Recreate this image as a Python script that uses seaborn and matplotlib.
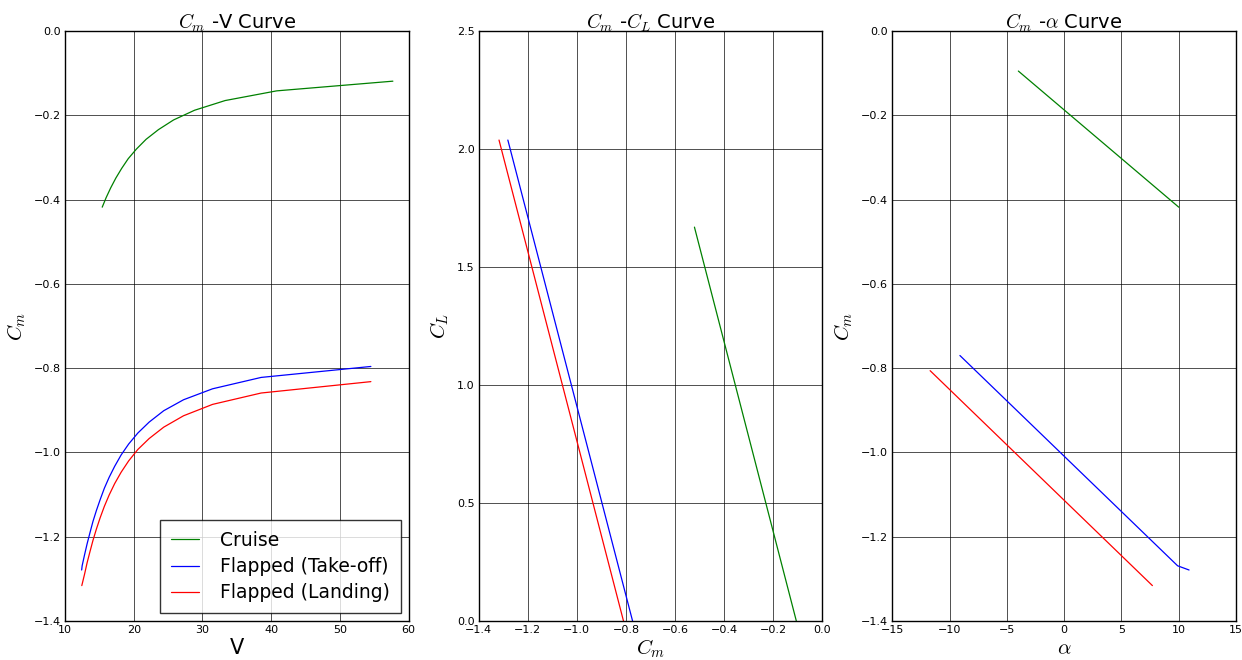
import numpy as np
import pandas as pd
import matplotlib
matplotlib.use("Agg")
import matplotlib.pyplot as plt
import seaborn as sns

# ---------------- data ----------------
series_names = ["Cruise", "Flapped (Take-off)", "Flapped (Landing)"]
series_colors = ["#008000", "#0000ff", "#ff0000"]

# Cm - V curve
v_cruise = [57.7, 40.8, 33.3, 28.85, 25.8, 23.6, 21.8, 20.4, 19.2, 18.25, 17.4, 16.66, 16.0, 15.42]
cm_v_cruise = [-0.119, -0.142, -0.165, -0.188, -0.211, -0.234, -0.257, -0.280, -0.303, -0.326,
               -0.349, -0.372, -0.395, -0.418]
v_takeoff = [54.5, 38.54, 31.47, 27.25, 24.37, 22.25, 20.6, 19.27, 18.17, 17.23, 16.43, 15.73,
             15.12, 14.57, 14.07, 13.63, 13.22, 12.85, 12.5, 12.43]
cm_v_takeoff = [-0.796, -0.822, -0.849, -0.875, -0.901, -0.928, -0.954, -0.980, -1.006, -1.033,
                -1.059, -1.085, -1.112, -1.138, -1.164, -1.191, -1.217, -1.243, -1.269, -1.279]
v_landing = [54.5, 38.54, 31.47, 27.25, 24.37, 22.25, 20.6, 19.27, 18.17, 17.23, 16.43, 15.73,
             15.12, 14.57, 14.07, 13.63, 13.22, 12.85, 12.45]
cm_v_landing = [-0.832, -0.859, -0.886, -0.913, -0.940, -0.967, -0.993, -1.020, -1.047, -1.074,
                -1.101, -1.128, -1.155, -1.182, -1.209, -1.236, -1.262, -1.289, -1.316]

# Cm - CL curve
cm_cl_cruise = [-0.106, -0.521]
cl_cruise = [0.0, 1.669]
cm_cl_takeoff = [-0.773, -1.281]
cl_takeoff = [0.0, 2.038]
cm_cl_landing = [-0.810, -1.317]
cl_landing = [0.0, 2.038]

# Cm - alpha curve
alpha_cruise = [-4.0, 10.0]
cm_a_cruise = [-0.095, -0.418]
alpha_takeoff = [-9.1, 9.9, 10.9]
cm_a_takeoff = [-0.770, -1.269, -1.279]
alpha_landing = [-11.7, 7.7]
cm_a_landing = [-0.806, -1.316]

# tick labels / axis ranges
v_ticks = [10, 20, 30, 40, 50, 60]
cm_ticks = [0.0, -0.2, -0.4, -0.6, -0.8, -1.0, -1.2, -1.4]
cmx_ticks = [-1.4, -1.2, -1.0, -0.8, -0.6, -0.4, -0.2, 0.0]
cl_ticks = [0.0, 0.5, 1.0, 1.5, 2.0, 2.5]
alpha_ticks = [-15, -10, -5, 0, 5, 10, 15]


def long_df(xs, ys):
    frames = []
    for name, x, y in zip(series_names, xs, ys):
        frames.append(pd.DataFrame({"x": x, "y": y, "series": name, "order": np.arange(len(x))}))
    return pd.concat(frames, ignore_index=True)


df_v = long_df([v_cruise, v_takeoff, v_landing], [cm_v_cruise, cm_v_takeoff, cm_v_landing])
df_cl = long_df([cm_cl_cruise, cm_cl_takeoff, cm_cl_landing], [cl_cruise, cl_takeoff, cl_landing])
df_a = long_df([alpha_cruise, alpha_takeoff, alpha_landing], [cm_a_cruise, cm_a_takeoff, cm_a_landing])

palette = dict(zip(series_names, series_colors))

sns.set_style("whitegrid")
plt.rcParams.update({
    "font.family": ["DejaVu Sans"],
    "mathtext.fontset": "cm",
    "axes.edgecolor": "black",
    "axes.linewidth": 1.0,
    "grid.color": "black",
    "grid.linewidth": 0.6,
    "grid.alpha": 0.8,
    "xtick.labelsize": 8,
    "ytick.labelsize": 8,
    "text.color": "black",
    "axes.labelcolor": "black",
    "xtick.color": "black",
    "ytick.color": "black",
    "axes.unicode_minus": True,
})

fig, axes = plt.subplots(1, 3, figsize=(12.42, 6.6), dpi=100)
fig.subplots_adjust(left=0.0523, right=0.9952, top=0.953, bottom=0.0591, wspace=0.2035)

panels = [
    (axes[0], df_v, "$C_m$ -V Curve", "V", "$C_m$", (10, 60), (-1.4, 0.0), v_ticks, cm_ticks),
    (axes[1], df_cl, "$C_m$ -$C_L$ Curve", "$C_m$", "$C_L$", (-1.4, 0.0), (0.0, 2.5), cmx_ticks, cl_ticks),
    (axes[2], df_a, r"$C_m$ -$\alpha$ Curve", r"$\alpha$", "$C_m$", (-15, 15), (-1.4, 0.0), alpha_ticks, cm_ticks),
]

for i, (ax, df, title, xl, yl, xlim, ylim, xt, yt) in enumerate(panels):
    sns.lineplot(data=df, x="x", y="y", hue="series", palette=palette, sort=False,
                 estimator=None, units="series", linewidth=0.9, ax=ax, legend=(i == 0))
    ax.set_xlim(*xlim)
    ax.set_ylim(*ylim)
    ax.set_xticks(xt)
    ax.set_yticks(yt)
    ax.set_title(title, fontsize=14, pad=2, color="black")
    ax.set_xlabel(xl, fontsize=15, labelpad=2, color="black")
    ax.set_ylabel(yl, fontsize=15, labelpad=4, color="black")
    ax.tick_params(axis="both", which="both", length=0, pad=3, colors="black")
    ax.grid(True)
    for s in ax.spines.values():
        s.set_color("black")

leg = axes[0].legend(loc="lower right", fontsize=13.5, frameon=True, fancybox=False,
                     edgecolor="black", handlelength=1.5, handletextpad=1.1,
                     borderpad=0.6, labelspacing=0.38, borderaxespad=0.4)
leg.get_frame().set_linewidth(1.0)
for t in leg.get_texts():
    t.set_color("black")

fig.savefig("out.png", dpi=100, facecolor="white")
